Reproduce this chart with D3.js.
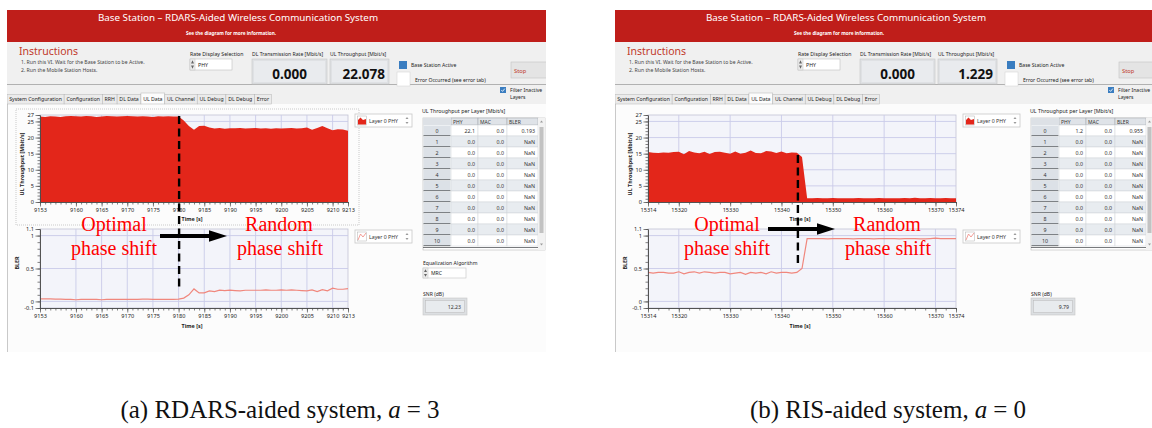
<!DOCTYPE html>
<html>
<head>
<meta charset="utf-8">
<title>Base Station – RDARS vs RIS uplink</title>
<script src="https://cdn.jsdelivr.net/npm/d3@7/dist/d3.min.js"></script>
<style>
  html, body { margin: 0; padding: 0; background: #ffffff; }
  svg { display: block; }
</style>
</head>
<body>
<svg id="fig" width="1152" height="428"></svg>
<script>
// ---------------- data ----------------
// RDARS-aided run (a = 3), one sample per second starting at rdarsStart
const rdarsStart = 9153;
const rdarsThroughput = [
  26.5, 26.4, 26.6, 26.5, 26.4, 26.6, 26.7, 26.6, 26.5, 26.7,
  26.6, 26.4, 26.5, 26.7, 26.6, 26.5, 26.6, 26.7, 26.6, 26.5,
  26.6, 26.5, 26.4, 26.6, 26.5, 26.6, 26.5, 26.5,
  25.3, 23.6, 22.4, 23.6, 23.7, 23.1, 22.8, 23.0, 22.7, 22.9,
  22.9, 23.0, 22.8, 22.9, 23.0, 22.8, 22.9, 22.7, 22.9, 22.8,
  22.9, 23.0, 22.8, 22.9, 23.1, 22.4, 23.0, 23.6, 22.9, 22.3,
  22.6, 22.5, 22.1
];
const rdarsBler = [
  0.04, 0.04, 0.04, 0.035, 0.035, 0.03, 0.03, 0.025, 0.03, 0.03,
  0.03, 0.03, 0.025, 0.03, 0.03, 0.03, 0.03, 0.03, 0.03, 0.03,
  0.035, 0.035, 0.03, 0.03, 0.03, 0.03, 0.03, 0.035,
  0.05, 0.10, 0.19, 0.13, 0.13, 0.16, 0.15, 0.17, 0.165, 0.17,
  0.165, 0.16, 0.17, 0.17, 0.17, 0.17, 0.175, 0.17, 0.17, 0.175,
  0.17, 0.175, 0.17, 0.165, 0.16, 0.175, 0.15, 0.18, 0.16, 0.20,
  0.185, 0.185, 0.193
];
const rdarsTimeTicks = [9153, 9160, 9165, 9170, 9175, 9180, 9185, 9190, 9195, 9200, 9205, 9210, 9213];
const rdarsSwitchTime = 9180.1;
const rdarsDlRate = "0.000";
const rdarsUlRate = "22.078";
const rdarsLayer0 = ["22.1", "0.0", "0.193"];
const rdarsSnr = "12.23";

// RIS-aided run (a = 0)
const risStart = 15314;
const risThroughput = [
  15.5, 15.3, 15.2, 15.4, 15.3, 15.5, 15.6, 14.8, 15.8, 15.4,
  15.1, 15.6, 14.9, 15.5, 15.6, 15.3, 15.0, 15.7, 15.0, 15.3,
  16.0, 15.2, 15.1, 15.8, 15.7, 15.2, 15.7, 15.1, 15.4, 15.3,
  14.0, 1.2,
  1.2, 1.25, 1.2, 1.2, 1.25, 1.2, 1.2, 1.15, 1.2, 1.25,
  1.2, 1.2, 1.2, 1.25, 1.2, 1.15, 1.2, 1.2, 1.25, 1.2,
  1.3, 1.2, 1.2, 1.25, 1.2, 1.2, 1.25, 1.2, 1.2
];
const risBler = [
  0.44, 0.43, 0.44, 0.44, 0.43, 0.43, 0.45, 0.42, 0.44, 0.45,
  0.43, 0.45, 0.44, 0.43, 0.44, 0.44, 0.42, 0.43, 0.44, 0.41,
  0.44, 0.43, 0.44, 0.42, 0.45, 0.43, 0.44, 0.44, 0.43, 0.44,
  0.50, 0.955,
  0.955, 0.955, 0.955, 0.95, 0.955, 0.955, 0.955, 0.955, 0.95, 0.955,
  0.955, 0.955, 0.95, 0.955, 0.955, 0.955, 0.955, 0.95, 0.955, 0.955,
  0.955, 0.95, 0.95, 0.955, 0.96, 0.955, 0.955, 0.955, 0.955
];
const risTimeTicks = [15314, 15320, 15330, 15340, 15350, 15360, 15370, 15374];
const risSwitchTime = 15343.2;
const risDlRate = "0.000";
const risUlRate = "1.229";
const risLayer0 = ["1.2", "0.0", "0.955"];
const risSnr = "9.79";

// shared axis ticks and table contents
const throughputTicks = [0, 5, 10, 15, 20, 25, 27];
const blerTicks = [-0.1, 0, 0.5, 1, 1.1];
const layerRows = ["0", "1", "2", "3", "4", "5", "6", "7", "8", "9", "10"];
const layerColumns = ["PHY", "MAC", "BLER"];
const inactiveLayer = ["0.0", "0.0", "NaN"];
const tabNames = ["System Configuration", "Configuration", "RRH", "DL Data", "UL Data",
                  "UL Channel", "UL Debug", "DL Debug", "Error"];
const activeTab = "UL Data";

// ---------------- drawing ----------------
const UI = "'Noto Sans', 'Open Sans', sans-serif";
const SERIF = "'Liberation Serif', 'Times New Roman', serif";
const RED_FILL = "#e3261a";
const BLER_LINE = "#f0877d";
const svg = d3.select("#fig");

function txt(g, x, y, s, size, o = {}) {
  return g.append("text")
    .attr("x", x).attr("y", y)
    .attr("font-family", o.family || UI)
    .attr("font-size", size)
    .attr("font-weight", o.weight || "normal")
    .attr("font-style", o.style || "normal")
    .attr("fill", o.fill || "#333")
    .attr("text-anchor", o.anchor || "start")
    .text(s);
}

function spinner(g, x, y, h) {
  // tiny up/down arrow pair used by LabVIEW ring controls
  const cx = x + 2.5;
  g.append("rect").attr("x", x).attr("y", y).attr("width", 5).attr("height", h)
    .attr("fill", "#ececec").attr("stroke", "#c4c4c4").attr("stroke-width", 0.5);
  g.append("path").attr("d", `M${cx - 1.5},${y + h / 2 - 1} L${cx},${y + 1.2} L${cx + 1.5},${y + h / 2 - 1} Z`).attr("fill", "#666");
  g.append("path").attr("d", `M${cx - 1.5},${y + h / 2 + 1} L${cx},${y + h - 1.2} L${cx + 1.5},${y + h / 2 + 1} Z`).attr("fill", "#666");
}

function styleAxis(a) {
  a.attr("font-family", UI).attr("font-size", 5.6);
  a.select(".domain").attr("stroke", "#4d4d4d").attr("stroke-width", 0.8);
  a.selectAll(".tick line").attr("stroke", "#4d4d4d").attr("stroke-width", 0.7);
  a.selectAll(".tick text").attr("fill", "#222");
}

function drawChart(g, c) {
  const left = 40, right = 348;
  const n = c.values.length;
  const x = d3.scaleLinear().domain([c.start, c.start + n - 1]).range([left, right]);
  const y = d3.scaleLinear().domain(c.yDomain).range([c.bottom, c.top]);

  g.append("rect").attr("x", left).attr("y", c.top)
    .attr("width", right - left).attr("height", c.bottom - c.top)
    .attr("fill", "#f3f4fa").attr("stroke", "#c2c4d4").attr("stroke-width", 0.8);

  g.append("g").selectAll("line").data(c.xTicks.slice(1, -1)).join("line")
    .attr("x1", d => x(d)).attr("x2", d => x(d))
    .attr("y1", c.top).attr("y2", c.bottom)
    .attr("stroke", "#c9cbe9").attr("stroke-width", 0.9);
  g.append("g").selectAll("line").data(c.yGrid).join("line")
    .attr("x1", left).attr("x2", right)
    .attr("y1", d => y(d)).attr("y2", d => y(d))
    .attr("stroke", "#c9cbe9").attr("stroke-width", 0.9);

  if (c.kind === "area") {
    const area = d3.area()
      .x((d, i) => x(c.start + i))
      .y0(y(0)).y1(d => y(d));
    g.append("path").datum(c.values).attr("d", area).attr("fill", RED_FILL);
  } else {
    const line = d3.line().x((d, i) => x(c.start + i)).y(d => y(d));
    g.append("path").datum(c.values).attr("d", line)
      .attr("fill", "none").attr("stroke", BLER_LINE).attr("stroke-width", 1.2);
  }

  // axes: minor ticks first, then labelled major ticks
  const minorX = d3.range(c.start, c.start + n - 1 + 1e-6, c.xMinorStep);
  const minorY = d3.range(c.yDomain[0], c.yDomain[1] + 1e-6, c.yMinorStep);
  g.append("g").attr("transform", `translate(0,${c.bottom})`)
    .call(d3.axisBottom(x).tickValues(minorX).tickSize(2.5).tickSizeOuter(0).tickFormat(""))
    .call(styleAxis);
  g.append("g").attr("transform", `translate(0,${c.bottom})`)
    .call(d3.axisBottom(x).tickValues(c.xTicks).tickSize(4.5).tickSizeOuter(0).tickPadding(1.5).tickFormat(d3.format("d")))
    .call(styleAxis);
  g.append("g").attr("transform", `translate(${left},0)`)
    .call(d3.axisLeft(y).tickValues(minorY).tickSize(2.5).tickSizeOuter(0).tickFormat(""))
    .call(styleAxis);
  g.append("g").attr("transform", `translate(${left},0)`)
    .call(d3.axisLeft(y).tickValues(c.yTicks).tickSize(4.5).tickSizeOuter(0).tickPadding(1.5).tickFormat(d => String(d)))
    .call(styleAxis);

  txt(g, 192, c.timeLabelY, "Time [s]", 5.4, { weight: "bold", anchor: "middle", fill: "#222" });
  g.append("text")
    .attr("transform", `translate(${c.yLabelX},${c.yLabelY}) rotate(-90)`)
    .attr("font-family", UI).attr("font-size", 5.4).attr("font-weight", "bold")
    .attr("fill", "#222").attr("text-anchor", "middle").text(c.yLabel);

  // plot legend ("Layer 0 PHY") with its icon and spinner
  const lg = g.append("g");
  const ly = c.legendY;
  lg.append("rect").attr("x", 355).attr("y", ly).attr("width", 57).attr("height", 13)
    .attr("fill", "#ffffff").attr("stroke", "#c8c8c8").attr("stroke-width", 0.8);
  lg.append("rect").attr("x", 357.5).attr("y", ly + 2).attr("width", 9).attr("height", 9)
    .attr("fill", "#ffffff").attr("stroke", "#b0b0b0").attr("stroke-width", 0.5);
  if (c.kind === "area") {
    lg.append("path").attr("d", `M358,${ly + 10.5} L358,${ly + 6} L360.5,${ly + 3.5} L363,${ly + 6} L366,${ly + 5} L366,${ly + 10.5} Z`).attr("fill", RED_FILL);
  } else {
    lg.append("path").attr("d", `M358,${ly + 10} L360.5,${ly + 4} L363,${ly + 7} L366,${ly + 3}`)
      .attr("fill", "none").attr("stroke", BLER_LINE).attr("stroke-width", 0.8);
  }
  txt(lg, 369, ly + 8.8, "Layer 0 PHY", 5.2, { fill: "#333" });
  lg.append("path").attr("d", `M405.5,${ly + 5} L407,${ly + 3} L408.5,${ly + 5} Z`).attr("fill", "#999");
  lg.append("path").attr("d", `M405.5,${ly + 8} L407,${ly + 10} L408.5,${ly + 8} Z`).attr("fill", "#999");
  return x;
}

function drawTable(g, layer0) {
  const edges = [423, 451, 478, 507, 538];
  const headTop = 118, rowTop = 125, pitch = 11;
  txt(g, 422, 112.5, "UL Throughput per Layer [Mbit/s]", 5.3, { fill: "#222" });
  // header row
  g.append("rect").attr("x", edges[0]).attr("y", headTop).attr("width", 122).attr("height", 132)
    .attr("fill", "#ffffff").attr("stroke", "#b8b8b8").attr("stroke-width", 0.6);
  layerColumns.forEach((name, j) => {
    g.append("rect").attr("x", edges[j + 1]).attr("y", headTop).attr("width", edges[j + 2] - edges[j + 1]).attr("height", 7)
      .attr("fill", "#dfe3e8").attr("stroke", "#9ea3a8").attr("stroke-width", 0.5);
    txt(g, edges[j + 1] + 2, headTop + 5.6, name, 5, { fill: "#333" });
  });
  g.append("rect").attr("x", edges[0]).attr("y", headTop).attr("width", edges[1] - edges[0]).attr("height", 7)
    .attr("fill", "#dde1e6");
  layerRows.forEach((r, i) => {
    const y0 = rowTop + i * pitch;
    const vals = i === 0 ? layer0 : inactiveLayer;
    g.append("rect").attr("x", edges[0] + 0.5).attr("y", y0 + 0.5).attr("width", edges[1] - edges[0] - 1).attr("height", pitch - 1)
      .attr("fill", "#dce1e7");
    g.append("line").attr("x1", edges[0] + 0.5).attr("x2", edges[1] - 0.5)
      .attr("y1", y0 + pitch - 0.3).attr("y2", y0 + pitch - 0.3)
      .attr("stroke", "#55585c").attr("stroke-width", 0.9);
    txt(g, (edges[0] + edges[1]) / 2, y0 + 7.6, r, 5.3, { anchor: "middle", fill: "#333" });
    vals.forEach((v, j) => {
      g.append("rect").attr("x", edges[j + 1]).attr("y", y0).attr("width", edges[j + 2] - edges[j + 1]).attr("height", pitch)
        .attr("fill", i % 2 === 0 ? "#ffffff" : "#e8ecf0").attr("stroke", "#cfd3d8").attr("stroke-width", 0.5);
      txt(g, edges[j + 2] - 3, y0 + 7.6, v, 5.3, { anchor: "end", fill: "#333" });
    });
  });
  g.append("line").attr("x1", edges[0]).attr("x2", edges[4]).attr("y1", 247.5).attr("y2", 247.5)
    .attr("stroke", "#55585c").attr("stroke-width", 0.8);
  // vertical scrollbar
  g.append("rect").attr("x", 538).attr("y", headTop).attr("width", 7).attr("height", 132).attr("fill", "#f2f2f2");
  g.append("rect").attr("x", 539.5).attr("y", 127).attr("width", 4).attr("height", 106).attr("fill", "#c2c2c2");
  g.append("path").attr("d", "M540,122.5 L541.5,120.5 L543,122.5 Z").attr("fill", "#9a9a9a");
  g.append("path").attr("d", "M540,243.5 L541.5,245.5 L543,243.5 Z").attr("fill", "#9a9a9a");
}

function drawPanel(p) {
  const clipId = "clip-" + p.id;
  svg.append("clipPath").attr("id", clipId).append("rect")
    .attr("x", p.dx + 7).attr("y", 0).attr("width", 539).attr("height", 428);
  const outer = svg.append("g").attr("clip-path", `url(#${clipId})`);
  const g = outer.append("g").attr("transform", `translate(${p.dx},0)`);

  // window background and title banner
  g.append("rect").attr("x", 7).attr("y", 10).attr("width", 545).attr("height", 94).attr("fill", "#f0f0f0");
  g.append("rect").attr("x", 7).attr("y", 104).attr("width", 545).attr("height", 248).attr("fill", "#fcfcfc");
  g.append("line").attr("x1", 7.5).attr("x2", 7.5).attr("y1", 104).attr("y2", 352).attr("stroke", "#c9c9c9").attr("stroke-width", 1);
  g.append("rect").attr("x", 7).attr("y", 10).attr("width", 545).attr("height", 32).attr("fill", "#bf1e1a");
  txt(g, 238, 21, "Base Station – RDARS-Aided Wireless Communication System", 9.8, { fill: "#ffffff", anchor: "middle" });
  txt(g, 231, 34.5, "See the diagram for more information.", 4.7, { fill: "#ffffff", anchor: "middle", weight: "bold" });

  // instructions block
  txt(g, 19, 55, "Instructions", 10.5, { fill: "#c0392b" });
  txt(g, 21, 64, "1. Run this VI. Wait for the Base Station to be Active.", 5.1, { fill: "#444" });
  txt(g, 21, 72, "2. Run the Mobile Station Hosts.", 5.1, { fill: "#444" });
  g.append("line").attr("x1", 7).attr("x2", 552).attr("y1", 84.5).attr("y2", 84.5).attr("stroke", "#a9a9a9").attr("stroke-width", 0.9);

  // rate display selector
  txt(g, 190, 56, "Rate Display Selection", 5.2, { fill: "#222" });
  g.append("rect").attr("x", 190).attr("y", 59).attr("width", 42).attr("height", 11)
    .attr("fill", "#ffffff").attr("stroke", "#c0c0c0").attr("stroke-width", 0.6);
  spinner(g, 190, 59, 11);
  txt(g, 198, 66.6, "PHY", 5.2, { fill: "#222" });

  // rate indicators
  [[252, 75, "DL Transmission Rate [Mbit/s]", p.dlRate, 307], [330, 59, "UL Throughput [Mbit/s]", p.ulRate, 385]]
    .forEach(([x0, w, label, val, xr]) => {
      txt(g, x0, 56, label, 5.1, { fill: "#222" });
      g.append("rect").attr("x", x0).attr("y", 59).attr("width", w).attr("height", 25)
        .attr("fill", "#dfe1e4").attr("stroke", "#c6c6c6").attr("stroke-width", 0.6);
      g.append("rect").attr("x", x0 + 2).attr("y", 61).attr("width", w - 4).attr("height", 21).attr("fill", "#e9ebee");
      txt(g, xr, 79, val, 13.5, { fill: "#111", weight: "bold", anchor: "end" });
    });

  // status LEDs
  g.append("rect").attr("x", 399).attr("y", 61).attr("width", 8).attr("height", 8).attr("fill", "#3a7dc0");
  txt(g, 411, 67, "Base Station Active", 5.1, { fill: "#222" });
  g.append("rect").attr("x", 397).attr("y", 72).attr("width", 13).attr("height", 14)
    .attr("fill", "#ffffff").attr("stroke", "#d0d0d0").attr("stroke-width", 0.5);
  txt(g, 415, 81.5, "Error Occurred (see error tab)", 5.1, { fill: "#222" });

  // stop button
  g.append("rect").attr("x", 511).attr("y", 62).attr("width", 40).attr("height", 16)
    .attr("fill", "#e4e4e4").attr("stroke", "#c2c2c2").attr("stroke-width", 0.6);
  txt(g, 514, 72.5, "Stop", 5.8, { fill: "#c0392b" });

  // filter checkbox
  g.append("rect").attr("x", 500).attr("y", 87).attr("width", 6).attr("height", 6).attr("fill", "#3a7dc0");
  g.append("path").attr("d", "M501.3,90 L502.6,91.4 L504.8,88.6").attr("fill", "none").attr("stroke", "#fff").attr("stroke-width", 0.8);
  txt(g, 510, 91.8, "Filter Inactive", 5.1, { fill: "#222" });
  txt(g, 510, 99.3, "Layers", 5.1, { fill: "#222" });

  // tab strip
  let tx = 7;
  tabNames.forEach(name => {
    const t = txt(g, 0, 101.3, name, 5.2, { fill: "#222" });
    const w = t.node().getComputedTextLength() + 4.5;
    const sel = name === activeTab;
    g.insert("rect", "text:last-of-type")
      .attr("x", tx).attr("y", sel ? 93 : 94.5).attr("width", w).attr("height", sel ? 11 : 9.5)
      .attr("fill", sel ? "#fcfcfc" : "#ebebeb").attr("stroke", "#b4b4b4").attr("stroke-width", 0.5);
    t.attr("x", tx + 2.25).raise();
    tx += w;
  });

  // chart selection frame
  if (p.showFrame) {
    g.append("rect").attr("x", 16).attr("y", 109).attr("width", 343).attr("height", 116)
      .attr("fill", "none").attr("stroke", "#a8a8a8").attr("stroke-width", 0.6).attr("stroke-dasharray", "1,1");
  }

  // throughput history (filled)
  const x = drawChart(g, {
    kind: "area", start: p.start, values: p.throughput,
    yDomain: [0, 27], top: 115, bottom: 202, yTicks: throughputTicks, yGrid: [5, 10, 15, 20, 25],
    yMinorStep: 1, xTicks: p.timeTicks, xMinorStep: p.minorStep,
    timeLabelY: 220.5, yLabel: "UL Throughput [Mbit/s]", yLabelX: 24, yLabelY: 164, legendY: 114
  });
  // BLER history (line)
  drawChart(g, {
    kind: "line", start: p.start, values: p.bler,
    yDomain: [-0.1, 1.1], top: 229, bottom: 308, yTicks: blerTicks, yGrid: [0, 0.5, 1],
    yMinorStep: 0.1, xTicks: p.timeTicks, xMinorStep: p.minorStep,
    timeLabelY: 327.5, yLabel: "BLER", yLabelX: 19, yLabelY: 263, legendY: 230
  });

  drawTable(g, p.layer0);

  if (p.showEqualization) {
    txt(g, 423, 264.5, "Equalization Algorithm", 5.1, { fill: "#222" });
    g.append("rect").attr("x", 423).attr("y", 268).attr("width", 43).attr("height", 10)
      .attr("fill", "#ffffff").attr("stroke", "#c4c4c4").attr("stroke-width", 0.6);
    spinner(g, 423, 268, 10);
    txt(g, 431, 275.3, "MRC", 5.1, { fill: "#222" });
  }
  txt(g, 423, 295.5, "SNR (dB)", 5.1, { fill: "#222" });
  g.append("rect").attr("x", 423).attr("y", 298).attr("width", 44).attr("height", 17)
    .attr("fill", "#dcdfe2").attr("stroke", "#c6c6c6").attr("stroke-width", 0.6);
  g.append("rect").attr("x", 425.5).attr("y", 300.5).attr("width", 39).attr("height", 12)
    .attr("fill", "#e8ebee").attr("stroke", "#b8b8b8").attr("stroke-width", 0.5);
  txt(g, 461, 308.8, p.snr, 5.2, { fill: "#333", anchor: "end" });

  // annotation overlay: switch from optimal to random phase shift
  const sx = x(p.switchTime);
  g.append("line").attr("x1", sx).attr("x2", sx).attr("y1", p.dashTop).attr("y2", p.dashBottom)
    .attr("stroke", "#000").attr("stroke-width", 2.4).attr("stroke-dasharray", "8,4.5");
  const ay = p.arrowY;
  g.append("line").attr("x1", 160).attr("x2", 212).attr("y1", ay).attr("y2", ay)
    .attr("stroke", "#000").attr("stroke-width", 4.2);
  g.append("path").attr("d", `M209,${ay - 5.8} L227,${ay} L209,${ay + 5.8} Z`).attr("fill", "#000");

  const serif = { family: SERIF, fill: "#ff0000", anchor: "middle" };
  txt(g, p.optimalX, 230.5, "Optimal", 20, serif);
  txt(g, p.optimalX, 254.5, "phase shift", 20, serif);
  txt(g, 279, 230.5, "Random", 20, serif);
  txt(g, 280, 254.5, "phase shift", 20, serif);
}

drawPanel({
  id: "rdars", dx: 0, dlRate: rdarsDlRate, ulRate: rdarsUlRate, layer0: rdarsLayer0, snr: rdarsSnr,
  start: rdarsStart, throughput: rdarsThroughput, bler: rdarsBler, timeTicks: rdarsTimeTicks, minorStep: 1,
  switchTime: rdarsSwitchTime, dashTop: 116, dashBottom: 291, arrowY: 236, optimalX: 114,
  showFrame: true, showEqualization: true
});
drawPanel({
  id: "ris", dx: 608, dlRate: risDlRate, ulRate: risUlRate, layer0: risLayer0, snr: risSnr,
  start: risStart, throughput: risThroughput, bler: risBler, timeTicks: risTimeTicks, minorStep: 2,
  switchTime: risSwitchTime, dashTop: 155, dashBottom: 266, arrowY: 229, optimalX: 119,
  showFrame: false, showEqualization: false
});

// sub-figure captions: label, italic symbol and its value laid out side by side
function caption(cx, label, value) {
  const g = svg.append("g");
  const parts = [
    { s: label, italic: false, gap: 6 },
    { s: "a", italic: true, gap: 6 },
    { s: "= " + value, italic: false, gap: 0 }
  ];
  const nodes = parts.map(pt => txt(g, 0, 418, pt.s, 25, {
    family: SERIF, fill: "#111", style: pt.italic ? "italic" : "normal"
  }));
  const widths = nodes.map(n => n.node().getComputedTextLength());
  const total = d3.sum(widths) + d3.sum(parts, pt => pt.gap);
  let cur = cx - total / 2;
  nodes.forEach((n, i) => { n.attr("x", cur); cur += widths[i] + parts[i].gap; });
}
caption(280, "(a) RDARS-aided system,", "3");
caption(888, "(b) RIS-aided system,", "0");
</script>
</body>
</html>
